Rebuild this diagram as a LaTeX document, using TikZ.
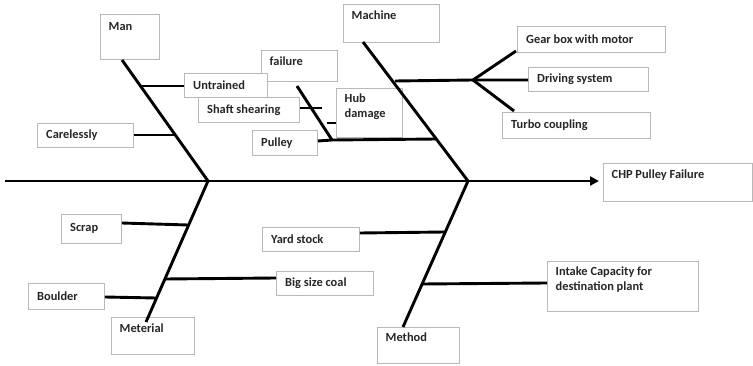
\documentclass[tikz,border=0pt]{standalone}
\usepackage{fontspec}
\setmainfont{Carlito}
\usetikzlibrary{arrows.meta}
\tikzset{
  boxst/.style={draw=black!28, line width=0.8pt, fill=white, inner sep=0pt},
  lbl/.style={font=\bfseries\fontsize{12.4}{15}\selectfont, text=black!85, inner sep=0pt, align=left},
  bone/.style={line width=2.9pt, black},
  twig/.style={line width=2.9pt, black},
}
\newcommand\bxc[6]{%
  \node[boxst, minimum width=#4pt, minimum height=#5pt, anchor=north west] (#1) at (#2,#3) {};
  \node[lbl, anchor=west] (#1t) at ([xshift=9pt]#1.west) {#6};}
\newcommand\bxt[7]{%
  \node[boxst, minimum width=#4pt, minimum height=#5pt, anchor=north west] (#1) at (#2,#3) {};
  \node[lbl, anchor=north west] (#1t) at ([shift={(8.5pt,-#7pt)}]#1.north west) {#6};}
\begin{document}
\begin{tikzpicture}[x=1pt,y=-1pt]
\useasboundingbox (0,0) rectangle (753,366);
% boxes
\bxt{man}{100}{14}{59}{45}{Man}{8}
\bxt{machine}{343}{4}{96}{38}{Machine}{7}
\bxc{gear}{517}{26}{148}{26}{Gear box with motor}
\bxc{drive}{528}{67}{120}{24}{Driving system}
\bxc{turbo}{502}{112}{148}{26}{Turbo coupling}
\bxt{fail}{261}{50}{76}{31}{failure}{7}
\bxc{untr}{184}{73}{83}{24}{Untrained}
\bxc{shaft}{198}{97}{101}{25}{Shaft shearing}
\bxt{hub}{336}{88}{66}{49}{Hub\\damage}{6}
\bxc{pulley}{252}{130}{65}{25}{Pulley}
\bxc{care}{37}{123}{96}{24}{Carelessly}
\bxt{chp}{603}{163}{149}{38}{CHP Pulley Failure}{7}
\bxc{scrap}{61}{214}{60}{29}{Scrap}
\bxc{yard}{262}{227}{97}{24}{Yard stock}
\bxc{coal}{276}{271}{97}{24}{Big size coal}
\bxc{bould}{28}{283}{76}{26}{Boulder}
\bxt{mat}{111}{317}{83}{37}{Meterial}{7}
\bxt{intake}{547}{261}{151}{50}{Intake Capacity for\\destination plant}{6}
\bxt{meth}{377}{327}{82}{36}{Method}{6}
% spine
\coordinate (s0) at (5,181);
\coordinate (jL) at (208,181);
\coordinate (jR) at (468,181);
\draw[bone, -{Triangle[length=9pt,width=9pt]}] (s0) -- ([xshift=-4pt]chp.west |- s0);
% main bones
\coordinate (manb) at (122,60);
\coordinate (macb) at (363,42);
\coordinate (matb) at (146,322);
\coordinate (metb) at (403,327);
\draw[bone] (manb) -- (jL);
\draw[bone] (matb) -- (jL);
\draw[bone] (macb) -- (jR);
\draw[bone] (metb) -- (jR);
% Man branches
\coordinate (u1) at (141,86);
\coordinate (c1) at (175,135);
\draw[twig] (u1) -- (untr.west |- u1);
\draw[twig] (c1) -- (care.east |- c1);
% Machine branches
\coordinate (d1) at (395,81);
\coordinate (dj) at (473,80);
\draw[twig] (d1) -- (dj) -- (drive.west |- dj);
\draw[twig] (dj) -- (516,51);
\draw[twig] (dj) -- (514,111);
\coordinate (p1) at (437,139);
\coordinate (fb) at (297,86);
\coordinate (fe) at (332,140);
\draw[twig] (pulley.east |- 0,141) -- (fe) -- (p1);
\draw[twig] (fb) -- (fe);
\draw[twig] (shaft.east |- 0,108) -- (322,108);
\coordinate (h1) at (327,123);
\draw[twig] (h1) -- (hub.west |- h1);
% Material branches
\coordinate (sc1) at (188,225);
\coordinate (bc1) at (165,279);
\coordinate (bo1) at (156,298);
\draw[twig] (sc1) -- (scrap.east |- 0,223);
\draw[twig] (bc1) -- (coal.west |- 0,278);
\draw[twig] (bo1) -- (bould.east |- 0,297);
% Method branches
\coordinate (y1) at (445,232);
\coordinate (i1) at (422,284);
\draw[twig] (y1) -- (yard.east |- 0,233);
\draw[twig] (i1) -- (intake.west |- 0,283);
\end{tikzpicture}
\end{document}
